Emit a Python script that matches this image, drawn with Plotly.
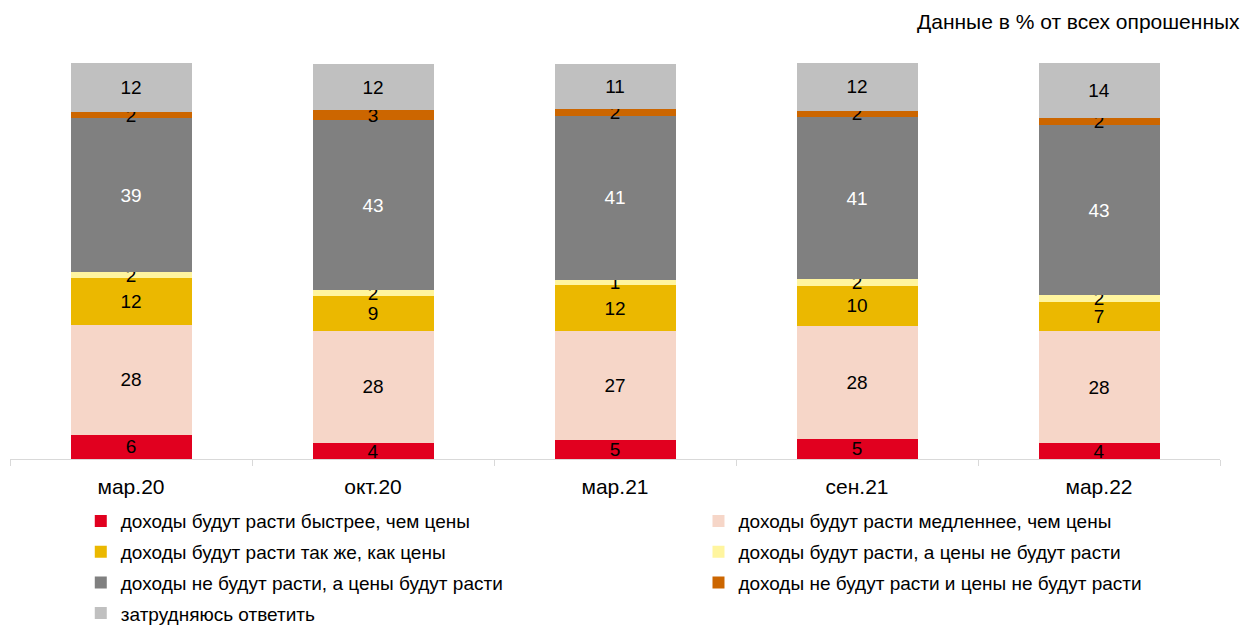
import plotly.graph_objects as go

categories = ["мар.20", "окт.20", "мар.21", "сен.21", "мар.22"]

faster = [6.1, 4.0, 4.9, 5.1, 4.0]
slower = [27.8, 28.4, 27.3, 28.4, 28.2]
same = [11.7, 8.7, 11.7, 10.3, 7.4]
inc_no_price = [1.7, 1.6, 1.4, 1.6, 1.8]
no_inc_price = [38.7, 42.8, 41.4, 41.0, 42.9]
neither = [1.7, 2.6, 1.6, 1.6, 1.8]
hard = [12.3, 11.6, 11.4, 12.0, 13.8]

series = [
    ("доходы будут расти быстрее, чем цены", faster, "#E1001F", "black", "legend"),
    ("доходы будут расти медленнее, чем цены", slower, "#F6D6C8", "black", "legend2"),
    ("доходы будут расти так же, как цены", same, "#EBB800", "black", "legend"),
    ("доходы будут расти, а цены не будут расти", inc_no_price, "#FFF59F", "black", "legend2"),
    ("доходы не будут расти, а цены будут расти", no_inc_price, "#808080", "white", "legend"),
    ("доходы не будут расти и цены не будут расти", neither, "#CC6600", "black", "legend2"),
    ("затрудняюсь ответить", hard, "#C0C0C0", "black", "legend"),
]

FONT = "Arial, Liberation Sans, sans-serif"

fig = go.Figure()
for i, (name, vals, color, tcolor, leg) in enumerate(series):
    fig.add_trace(go.Bar(
        x=categories, y=vals, name=name,
        marker=dict(color=color, line=dict(width=0)),
        texttemplate="%{y:.0f}",
        textposition="inside",
        insidetextanchor="middle",
        constraintext="none",
        textangle=0,
        textfont=dict(family=FONT, size=19, color=tcolor),
        legend=leg,
        legendgroup="g%d" % i,
        hoverinfo="skip",
    ))

legend_common = dict(
    orientation="v",
    traceorder="grouped",
    tracegroupgap=3,
    font=dict(family=FONT, size=19, color="black"),
    bgcolor="rgba(0,0,0,0)",
    yanchor="top",
    xanchor="left",
    itemclick=False,
    itemdoubleclick=False,
)

fig.update_layout(
    width=1251, height=625,
    barmode="stack",
    bargap=0.5,
    plot_bgcolor="white",
    paper_bgcolor="white",
    margin=dict(l=2, r=39, t=55, b=174, autoexpand=False),
    font=dict(family=FONT, size=19, color="black"),
    legend=dict(x=0.0585, y=-0.109, **legend_common),
    legend2=dict(x=0.569, y=-0.109, **legend_common),
    xaxis=dict(
        range=[-0.5, 4.5],
        showline=True, linecolor="#D9D9D9", linewidth=1,
        ticks="outside", ticklen=6, tickcolor="#D9D9D9", tickwidth=1,
        tickson="boundaries",
        ticklabelstandoff=9,
        showgrid=False,
        tickfont=dict(family=FONT, size=21, color="black"),
    ),
    yaxis=dict(range=[0, 100], visible=False, fixedrange=True),
    annotations=[dict(
        text="Данные в % от всех опрошенных",
        xref="paper", yref="paper", x=1.0182, y=1.104,
        xanchor="right", yanchor="middle", showarrow=False,
        font=dict(family=FONT, size=21, color="black"),
    )],
)

fig.write_html("out.html")
